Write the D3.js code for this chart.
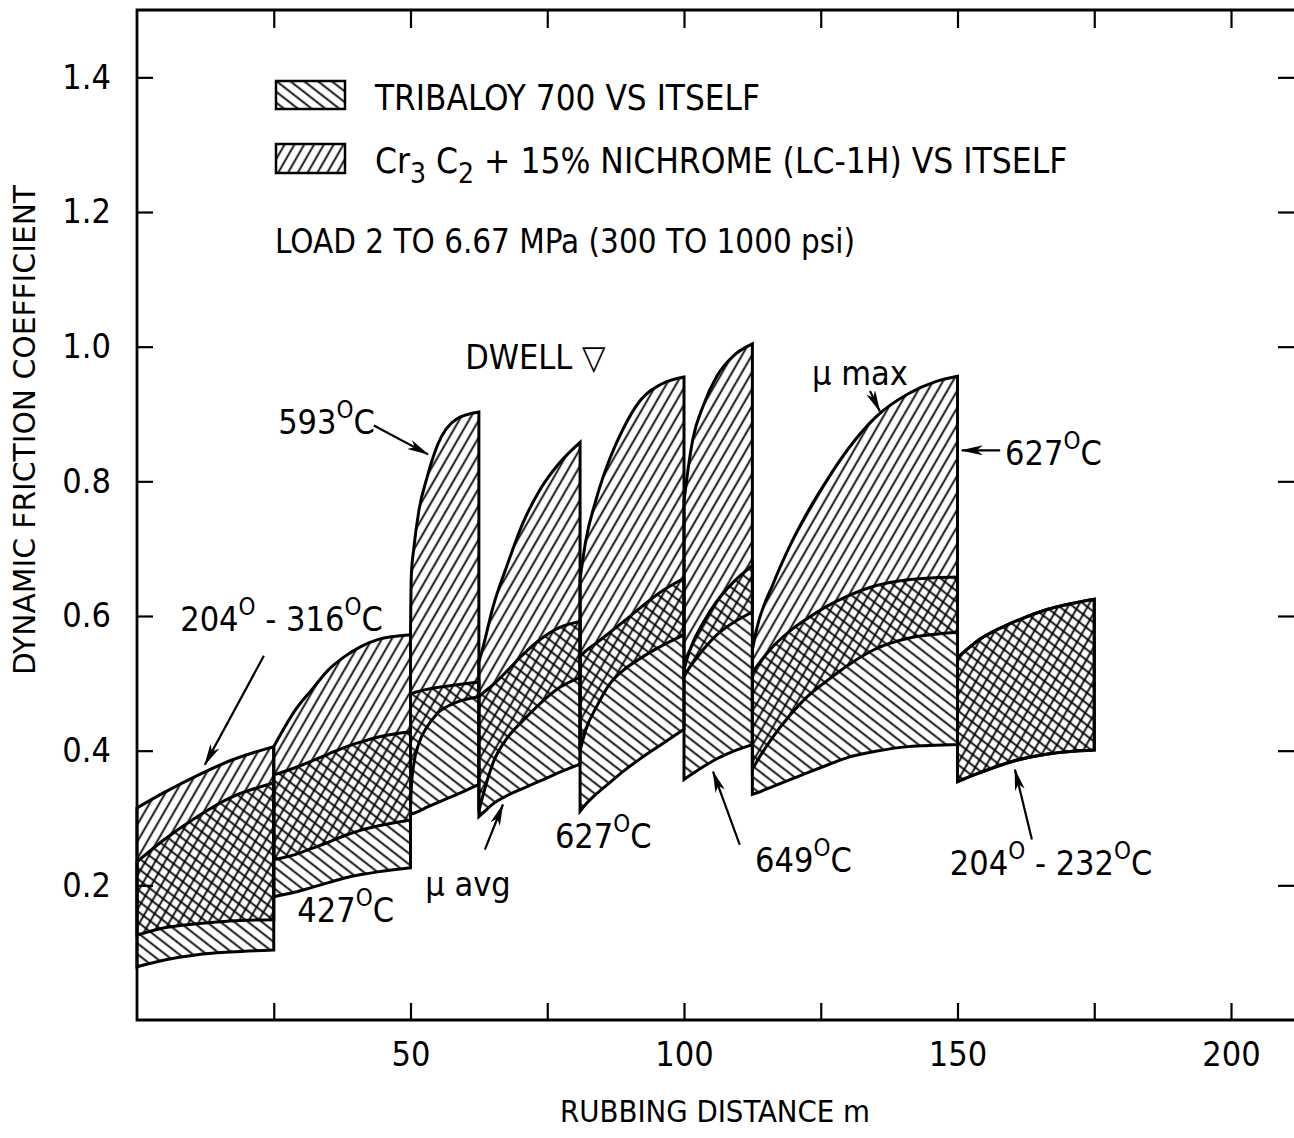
<!DOCTYPE html>
<html>
<head>
<meta charset="utf-8">
<script src="https://cdn.jsdelivr.net/npm/d3@7"></script>
<style>
  body { margin: 0; background: #fff; }
  svg { display: block; }
  text { font-family: 'Liberation Sans Narrow', 'DejaVu Sans Condensed', 'Liberation Sans', sans-serif; fill: #000; }
</style>
</head>
<body>
<svg id="chart" width="1294" height="1138"></svg>
<script>

// rubbing distance (m) sampled along each run between dwells
var segX = [
  [0, 5, 11, 17, 25],
  [25, 29, 32, 35, 38, 41, 44, 50],
  [50, 50.15, 50.6, 51.5, 53, 55, 58.5, 62.5],
  [62.5, 63.3, 65.1, 67.6, 70.6, 73.7, 77.3, 81],
  [81, 82, 84, 86.5, 89, 92, 96, 100],
  [100, 100.5, 101.6, 103.5, 106, 109, 112.5],
  [112.5, 113.2, 116.3, 119.4, 122.5, 126, 130, 135, 141, 146, 150],
  [150, 154, 160, 166.5, 175]
];

// Tribaloy 700 vs itself : lower (mu avg) and upper (mu max) friction
var triLow = [
  [0.079, 0.089, 0.097, 0.101, 0.104],
  [0.183, 0.190, 0.197, 0.204, 0.211, 0.216, 0.220, 0.226],
  [0.305, 0.306, 0.307, 0.310, 0.316, 0.323, 0.335, 0.350],
  [0.302, 0.308, 0.321, 0.333, 0.344, 0.355, 0.368, 0.380],
  [0.310, 0.320, 0.336, 0.353, 0.370, 0.388, 0.410, 0.432],
  [0.357, 0.360, 0.366, 0.376, 0.388, 0.399, 0.409],
  [0.335, 0.337, 0.347, 0.357, 0.367, 0.378, 0.390, 0.399, 0.406, 0.408, 0.409],
  [0.354, 0.367, 0.384, 0.395, 0.401]
];
var triHigh = [
  [0.235, 0.268, 0.302, 0.330, 0.352],
  [0.364, 0.375, 0.385, 0.395, 0.405, 0.413, 0.420, 0.428],
  [0.483, 0.484, 0.486, 0.488, 0.491, 0.494, 0.498, 0.502],
  [0.480, 0.486, 0.498, 0.518, 0.543, 0.565, 0.583, 0.592],
  [0.540, 0.548, 0.560, 0.576, 0.592, 0.612, 0.637, 0.656],
  [0.520, 0.535, 0.560, 0.590, 0.622, 0.650, 0.675],
  [0.516, 0.524, 0.555, 0.578, 0.596, 0.614, 0.630, 0.645, 0.654, 0.657, 0.658],
  [0.538, 0.565, 0.590, 0.610, 0.625]
];

// Cr3C2 + 15% nichrome (LC-1H) vs itself
var crLow = [
  [0.126, 0.137, 0.143, 0.147, 0.149],
  [0.238, 0.246, 0.255, 0.264, 0.274, 0.282, 0.288, 0.297],
  [0.315, 0.345, 0.380, 0.410, 0.435, 0.456, 0.472, 0.480],
  [0.310, 0.335, 0.382, 0.418, 0.445, 0.470, 0.494, 0.509],
  [0.400, 0.430, 0.465, 0.500, 0.520, 0.537, 0.556, 0.572],
  [0.510, 0.517, 0.530, 0.550, 0.572, 0.590, 0.606],
  [0.372, 0.382, 0.421, 0.453, 0.480, 0.503, 0.527, 0.551, 0.567, 0.573, 0.576],
  [0.354, 0.367, 0.384, 0.395, 0.401]
];
var crHigh = [
  [0.315, 0.338, 0.363, 0.385, 0.406],
  [0.406, 0.461, 0.491, 0.520, 0.540, 0.555, 0.565, 0.572],
  [0.575, 0.660, 0.700, 0.755, 0.805, 0.855, 0.893, 0.903],
  [0.531, 0.555, 0.614, 0.674, 0.739, 0.788, 0.828, 0.858],
  [0.655, 0.710, 0.775, 0.835, 0.880, 0.920, 0.945, 0.955],
  [0.770, 0.803, 0.862, 0.912, 0.956, 0.986, 1.004],
  [0.550, 0.578, 0.648, 0.705, 0.753, 0.800, 0.848, 0.895, 0.930, 0.948, 0.956],
  [0.538, 0.565, 0.590, 0.610, 0.625]
];

var xTicks = [25, 50, 75, 100, 125, 150, 175, 200];
var yTicks = [0.2, 0.4, 0.6, 0.8, 1.0, 1.2, 1.4];
var yLabels = ['0.2', '0.4', '0.6', '0.8', '1.0', '1.2', '1.4'];

// annotations: "^" toggles superscript
var noteText = ['593^O^C', 'DWELL \u25BD', '\u03BC max', '627^O^C', '204^O^ - 316^O^C',
                '427^O^C', '\u03BC avg', '627^O^C', '649^O^C', '204^O^ - 232^O^C'];
var noteX = [25.8, 60.0, 123.4, 158.7, 7.9, 29.3, 52.7, 76.4, 113.0, 148.6];
var noteY = [0.870, 0.967, 0.943, 0.825, 0.577, 0.146, 0.184, 0.256, 0.220, 0.216];

// arrows [fromX, fromY, toX, toY]
var arrows = [
  [43.3, 0.883, 53.2, 0.840],
  [134.0, 0.934, 135.8, 0.904],
  [157.8, 0.846, 150.8, 0.846],
  [23.2, 0.541, 12.4, 0.379],
  [63.6, 0.253, 66.9, 0.320],
  [110.2, 0.260, 105.3, 0.369],
  [163.6, 0.268, 160.5, 0.372]
];

var svg = d3.select('#chart');
var x = d3.scaleLinear().domain([0, 211.7]).range([137, 1295]);
var y = d3.scaleLinear().domain([0, 1.5]).range([1020, 10]);

var defs = svg.append('defs');

function hatch(id, angle) {
  var p = defs.append('pattern')
    .attr('id', id)
    .attr('patternUnits', 'userSpaceOnUse')
    .attr('width', 8.5).attr('height', 8.5)
    .attr('patternTransform', 'rotate(' + angle + ')');
  p.append('line')
    .attr('x1', 4.25).attr('y1', -1).attr('x2', 4.25).attr('y2', 9.5)
    .attr('stroke', '#000').attr('stroke-width', 1.8);
}
hatch('hatchCr', 30);
hatch('hatchTri', -52);

defs.append('marker')
  .attr('id', 'arrow')
  .attr('viewBox', '0 0 22 10')
  .attr('refX', 21).attr('refY', 5)
  .attr('markerWidth', 22).attr('markerHeight', 10)
  .attr('markerUnits', 'userSpaceOnUse')
  .attr('orient', 'auto')
  .append('path')
  .attr('d', 'M0,0 L22,5 L0,10 L6,5 Z')
  .attr('fill', '#000');

// bands
function band(lows, highs) {
  return segX.map(function(xs, s) {
    return xs.map(function(v, i) { return { x: v, lo: lows[s][i], hi: highs[s][i] }; });
  });
}

var area = d3.area()
  .x(function(d) { return x(d.x); })
  .y0(function(d) { return y(d.lo); })
  .y1(function(d) { return y(d.hi); })
  .curve(d3.curveMonotoneX);

var triBands = band(triLow, triHigh);
var crBands = band(crLow, crHigh);

svg.append('g').selectAll('path')
  .data(triBands).enter().append('path')
  .attr('d', area).attr('fill', 'url(#hatchTri)');

svg.append('g').selectAll('path')
  .data(crBands).enter().append('path')
  .attr('d', area).attr('fill', 'url(#hatchCr)');

svg.append('g').selectAll('path')
  .data(triBands.concat(crBands)).enter().append('path')
  .attr('d', area)
  .attr('fill', 'none')
  .attr('stroke', '#000')
  .attr('stroke-width', 3)
  .attr('stroke-linejoin', 'miter');

// axes
var axLeft = svg.append('g')
  .attr('transform', 'translate(' + x(0) + ',0)')
  .call(d3.axisLeft(y).tickValues(yTicks)
    .tickFormat(function(d, i) { return yLabels[i]; })
    .tickSizeInner(-16).tickSizeOuter(0).tickPadding(26));

var axRight = svg.append('g')
  .attr('transform', 'translate(' + x(211.7) + ',0)')
  .call(d3.axisRight(y).tickValues(yTicks)
    .tickFormat('').tickSizeInner(-17).tickSizeOuter(0));

var axBottom = svg.append('g')
  .attr('transform', 'translate(0,' + y(0) + ')')
  .call(d3.axisBottom(x).tickValues(xTicks)
    .tickFormat(function(d) { return d % 50 === 0 ? d : ''; })
    .tickSizeInner(-17).tickSizeOuter(0).tickPadding(22));

var axTop = svg.append('g')
  .attr('transform', 'translate(0,' + y(1.5) + ')')
  .call(d3.axisTop(x).tickValues(xTicks)
    .tickFormat('').tickSizeInner(-18).tickSizeOuter(0));

[axLeft, axRight, axBottom, axTop].forEach(function(g) {
  g.select('.domain').remove();
  g.selectAll('.tick line').attr('stroke', '#000').attr('stroke-width', 2.2);
  g.selectAll('.tick text').attr('font-size', 34).attr('font-family', null);
});

// frame
svg.append('path')
  .attr('d', 'M' + x(211.7) + ',' + y(1.5) + 'H' + x(0) + 'V' + y(0) + 'H' + x(211.7))
  .attr('fill', 'none').attr('stroke', '#000').attr('stroke-width', 2.8);

// axis titles
svg.append('text')
  .attr('transform', 'translate(24,430) rotate(-90)')
  .attr('text-anchor', 'middle').attr('dominant-baseline', 'central')
  .attr('font-size', 30)
  .attr('textLength', 490).attr('lengthAdjust', 'spacingAndGlyphs')
  .text('DYNAMIC FRICTION COEFFICIENT');

svg.append('text')
  .attr('x', 715).attr('y', 1122)
  .attr('text-anchor', 'middle')
  .attr('font-size', 30)
  .attr('textLength', 310).attr('lengthAdjust', 'spacingAndGlyphs')
  .text('RUBBING DISTANCE m');

// legend
var legend = svg.append('g');
legend.append('rect').attr('x', 276).attr('y', 81).attr('width', 69).attr('height', 28)
  .attr('fill', 'url(#hatchTri)').attr('stroke', '#000').attr('stroke-width', 2.5);
legend.append('rect').attr('x', 276).attr('y', 144).attr('width', 69).attr('height', 29)
  .attr('fill', 'url(#hatchCr)').attr('stroke', '#000').attr('stroke-width', 2.5);

legend.append('text')
  .attr('x', 375).attr('y', 110).attr('font-size', 35)
  .attr('textLength', 385).attr('lengthAdjust', 'spacingAndGlyphs')
  .text('TRIBALOY 700 VS ITSELF');

var l2 = legend.append('text').attr('x', 375).attr('y', 173).attr('font-size', 35);
l2.append('tspan').text('Cr');
l2.append('tspan').attr('dy', 10).attr('font-size', 28).text('3');
l2.append('tspan').attr('dy', -10).text(' C');
l2.append('tspan').attr('dy', 10).attr('font-size', 28).text('2');
l2.append('tspan').attr('dy', -10).text('  +  15% NICHROME (LC-1H) VS ITSELF');

legend.append('text')
  .attr('x', 275).attr('y', 253).attr('font-size', 33)
  .attr('textLength', 580).attr('lengthAdjust', 'spacingAndGlyphs')
  .text('LOAD  2 TO 6.67 MPa (300 TO 1000 psi)');

// notes
svg.append('g').selectAll('text')
  .data(noteText).enter().append('text')
  .attr('x', function(d, i) { return x(noteX[i]); })
  .attr('y', function(d, i) { return y(noteY[i]); })
  .attr('font-size', 34)
  .each(function(d) {
    var t = d3.select(this);
    d.split('^').forEach(function(part, k) {
      if (!part) return;
      if (k % 2 === 1) {
        t.append('tspan').attr('dy', -16).attr('font-size', 24).text(part);
      } else {
        t.append('tspan').attr('dy', k > 0 ? 16 : 0).text(part);
      }
    });
  });

svg.append('g').selectAll('line')
  .data(arrows).enter().append('line')
  .attr('x1', function(d) { return x(d[0]); })
  .attr('y1', function(d) { return y(d[1]); })
  .attr('x2', function(d) { return x(d[2]); })
  .attr('y2', function(d) { return y(d[3]); })
  .attr('stroke', '#000').attr('stroke-width', 2.2)
  .attr('marker-end', 'url(#arrow)');

</script>
</body>
</html>
